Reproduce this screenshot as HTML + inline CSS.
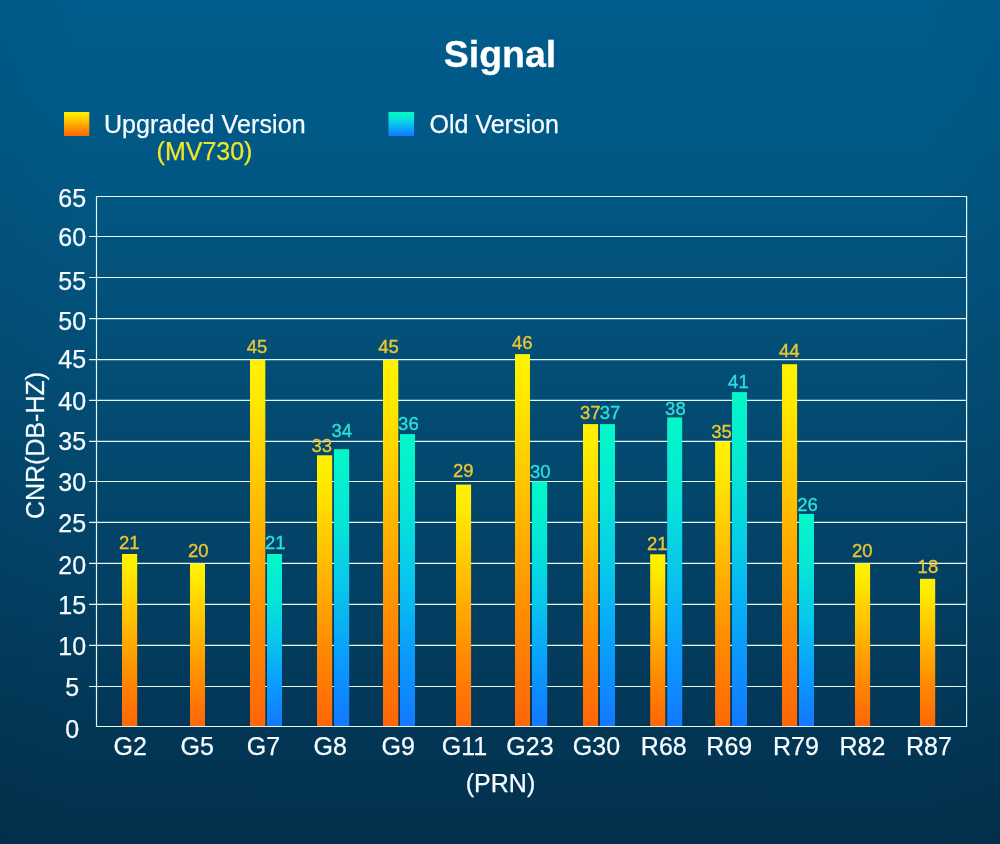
<!DOCTYPE html>
<html><head><meta charset="utf-8"><title>Signal</title>
<style>
html,body{margin:0;padding:0;background:#0a3a5a;}
body{width:1000px;height:844px;overflow:hidden;font-family:"Liberation Sans",sans-serif;}
svg{display:block;will-change:transform;}
text{font-family:"Liberation Sans",sans-serif;}
.ax{font-size:25px;fill:#f6fcff;stroke:#f6fcff;stroke-width:0.25px;}
.vy{font-size:18.5px;fill:#ecc732;stroke:#ecc732;stroke-width:0.35px;}
.vb{font-size:18.5px;fill:#2ce0d8;stroke:#2ce0d8;stroke-width:0.35px;}
</style></head><body>
<svg width="1000" height="844" viewBox="0 0 1000 844">
<defs>
<linearGradient id="bg" x1="0" y1="0" x2="0" y2="1">
<stop offset="0" stop-color="#005c8c"/>
<stop offset="0.12" stop-color="#005a88"/>
<stop offset="0.24" stop-color="#025682"/>
<stop offset="0.47" stop-color="#034c74"/>
<stop offset="0.66" stop-color="#034266"/>
<stop offset="0.83" stop-color="#033858"/>
<stop offset="1" stop-color="#02304c"/>
</linearGradient>
<linearGradient id="vig" x1="0" y1="0" x2="1" y2="0">
<stop offset="0" stop-color="#001828" stop-opacity="0.05"/>
<stop offset="0.08" stop-color="#001828" stop-opacity="0"/>
<stop offset="0.92" stop-color="#001828" stop-opacity="0"/>
<stop offset="1" stop-color="#001828" stop-opacity="0.05"/>
</linearGradient>
<linearGradient id="go" x1="0" y1="0" x2="0" y2="1">
<stop offset="0" stop-color="#fff200"/>
<stop offset="0.1" stop-color="#ffea00"/>
<stop offset="0.4" stop-color="#ffbc00"/>
<stop offset="0.7" stop-color="#ff8c00"/>
<stop offset="1" stop-color="#ff6608"/>
</linearGradient>
<linearGradient id="gb" x1="0" y1="0" x2="0" y2="1">
<stop offset="0" stop-color="#04f8c8"/>
<stop offset="0.25" stop-color="#06e6d6"/>
<stop offset="0.5" stop-color="#08c6ec"/>
<stop offset="0.72" stop-color="#0aa2fa"/>
<stop offset="0.88" stop-color="#0e8aff"/>
<stop offset="1" stop-color="#1478ff"/>
</linearGradient>
</defs>
<rect width="1000" height="844" fill="url(#bg)"/>
<rect width="1000" height="844" fill="url(#vig)"/>
<text x="500" y="66.9" text-anchor="middle" font-size="37.5" font-weight="bold" fill="#ffffff" stroke="#ffffff" stroke-width="0.3">Signal</text>
<rect x="64" y="112" width="25.3" height="24" fill="url(#go)"/>
<text class="ax" x="204.8" y="132.5" text-anchor="middle" letter-spacing="0.1">Upgraded Version</text>
<text x="204.5" y="160" text-anchor="middle" font-size="25" fill="#efe52c" stroke="#efe52c" stroke-width="0.25">(MV730)</text>
<rect x="388.5" y="112" width="25.6" height="24" fill="url(#gb)"/>
<text class="ax" x="494.2" y="133" text-anchor="middle">Old Version</text>
<g stroke="#e4f8f6" stroke-width="1.2" fill="none">
<line x1="96.5" y1="196.50" x2="966.6" y2="196.50"/>
<line x1="89.0" y1="236.50" x2="966.6" y2="236.50"/>
<line x1="89.0" y1="277.50" x2="966.6" y2="277.50"/>
<line x1="89.0" y1="318.60" x2="966.6" y2="318.60"/>
<line x1="89.0" y1="359.60" x2="966.6" y2="359.60"/>
<line x1="89.0" y1="400.45" x2="966.6" y2="400.45"/>
<line x1="89.0" y1="441.40" x2="966.6" y2="441.40"/>
<line x1="89.0" y1="481.50" x2="966.6" y2="481.50"/>
<line x1="89.0" y1="522.40" x2="966.6" y2="522.40"/>
<line x1="89.0" y1="563.30" x2="966.6" y2="563.30"/>
<line x1="89.0" y1="604.30" x2="966.6" y2="604.30"/>
<line x1="89.0" y1="645.40" x2="966.6" y2="645.40"/>
<line x1="89.0" y1="686.50" x2="966.6" y2="686.50"/>
<line x1="96.5" y1="726.50" x2="966.6" y2="726.50"/>
<line x1="96.5" y1="196.0" x2="96.5" y2="727.0"/>
<line x1="966.6" y1="196.0" x2="966.6" y2="727.0"/>
</g>
<text class="ax" x="72.2" y="206.7" text-anchor="middle">65</text>
<text class="ax" x="72.2" y="245.9" text-anchor="middle">60</text>
<text class="ax" x="72.2" y="289.7" text-anchor="middle">55</text>
<text class="ax" x="72.2" y="329.7" text-anchor="middle">50</text>
<text class="ax" x="72.2" y="368.2" text-anchor="middle">45</text>
<text class="ax" x="72.2" y="410.3" text-anchor="middle">40</text>
<text class="ax" x="72.2" y="450.2" text-anchor="middle">35</text>
<text class="ax" x="72.2" y="490.7" text-anchor="middle">30</text>
<text class="ax" x="72.2" y="532.4" text-anchor="middle">25</text>
<text class="ax" x="72.2" y="573.6" text-anchor="middle">20</text>
<text class="ax" x="72.2" y="614.2" text-anchor="middle">15</text>
<text class="ax" x="72.2" y="655.2" text-anchor="middle">10</text>
<text class="ax" x="72.2" y="696.3" text-anchor="middle">5</text>
<text class="ax" x="72.2" y="737.8" text-anchor="middle">0</text>
<text class="ax" transform="translate(44.2,445.5) rotate(-90)" text-anchor="middle">CNR(DB-HZ)</text>
<rect x="122" y="554" width="15.2" height="172.0" fill="url(#go)"/>
<text class="vy" x="129.2" y="549.4" text-anchor="middle">21</text>
<text class="ax" x="130.3" y="754.6" text-anchor="middle">G2</text>
<rect x="190" y="563.5" width="15.0" height="162.5" fill="url(#go)"/>
<text class="vy" x="198.3" y="556.9" text-anchor="middle">20</text>
<text class="ax" x="197.3" y="754.6" text-anchor="middle">G5</text>
<rect x="250" y="359.8" width="15.3" height="366.2" fill="url(#go)"/>
<text class="vy" x="257.1" y="353.4" text-anchor="middle">45</text>
<rect x="267" y="554" width="15.0" height="172.0" fill="url(#gb)"/>
<text class="vb" x="275.2" y="549.4" text-anchor="middle">21</text>
<text class="ax" x="263.5" y="754.6" text-anchor="middle">G7</text>
<rect x="317" y="455.3" width="15.2" height="270.7" fill="url(#go)"/>
<text class="vy" x="321.7" y="452.0" text-anchor="middle">33</text>
<rect x="334" y="449.2" width="15.2" height="276.8" fill="url(#gb)"/>
<text class="vb" x="341.8" y="437.4" text-anchor="middle">34</text>
<text class="ax" x="330.3" y="754.6" text-anchor="middle">G8</text>
<rect x="383" y="359.9" width="15.3" height="366.1" fill="url(#go)"/>
<text class="vy" x="388.5" y="353.1" text-anchor="middle">45</text>
<rect x="400" y="434.1" width="15.0" height="291.9" fill="url(#gb)"/>
<text class="vb" x="408.4" y="430.3" text-anchor="middle">36</text>
<text class="ax" x="398.2" y="754.6" text-anchor="middle">G9</text>
<rect x="456" y="484.6" width="15.1" height="241.4" fill="url(#go)"/>
<text class="vy" x="463.2" y="476.8" text-anchor="middle">29</text>
<text class="ax" x="464.5" y="754.6" text-anchor="middle">G11</text>
<rect x="515" y="354.1" width="15.0" height="371.9" fill="url(#go)"/>
<text class="vy" x="522.2" y="349.3" text-anchor="middle">46</text>
<rect x="532" y="481.4" width="15.2" height="244.6" fill="url(#gb)"/>
<text class="vb" x="540.2" y="477.6" text-anchor="middle">30</text>
<text class="ax" x="530.0" y="754.6" text-anchor="middle">G23</text>
<rect x="583" y="424.1" width="15.1" height="301.9" fill="url(#go)"/>
<text class="vy" x="590.3" y="419.4" text-anchor="middle">37</text>
<rect x="600" y="424.1" width="15.0" height="301.9" fill="url(#gb)"/>
<text class="vb" x="610" y="419.4" text-anchor="middle">37</text>
<text class="ax" x="596.5" y="754.6" text-anchor="middle">G30</text>
<rect x="650.2" y="554.3" width="15.1" height="171.7" fill="url(#go)"/>
<text class="vy" x="657.3" y="549.8" text-anchor="middle">21</text>
<rect x="667.2" y="417.4" width="15.0" height="308.6" fill="url(#gb)"/>
<text class="vb" x="675.4" y="414.9" text-anchor="middle">38</text>
<text class="ax" x="663.8" y="754.6" text-anchor="middle">R68</text>
<rect x="715.1" y="441.6" width="15.1" height="284.4" fill="url(#go)"/>
<text class="vy" x="721.5" y="437.6" text-anchor="middle">35</text>
<rect x="732" y="392.1" width="15.0" height="333.9" fill="url(#gb)"/>
<text class="vb" x="738.4" y="387.6" text-anchor="middle">41</text>
<text class="ax" x="729.3" y="754.6" text-anchor="middle">R69</text>
<rect x="782" y="364.2" width="15.1" height="361.8" fill="url(#go)"/>
<text class="vy" x="789.3" y="356.6" text-anchor="middle">44</text>
<rect x="799" y="513.9" width="15.0" height="212.1" fill="url(#gb)"/>
<text class="vb" x="807.6" y="511.0" text-anchor="middle">26</text>
<text class="ax" x="796.0" y="754.6" text-anchor="middle">R79</text>
<rect x="855" y="563.4" width="15.1" height="162.6" fill="url(#go)"/>
<text class="vy" x="862.3" y="557.1" text-anchor="middle">20</text>
<text class="ax" x="862.4" y="754.6" text-anchor="middle">R82</text>
<rect x="920" y="578.8" width="15.2" height="147.2" fill="url(#go)"/>
<text class="vy" x="927.9" y="573.1" text-anchor="middle">18</text>
<text class="ax" x="928.9" y="754.6" text-anchor="middle">R87</text>
<text class="ax" x="500.5" y="791.6" text-anchor="middle">(PRN)</text>
</svg></body></html>
